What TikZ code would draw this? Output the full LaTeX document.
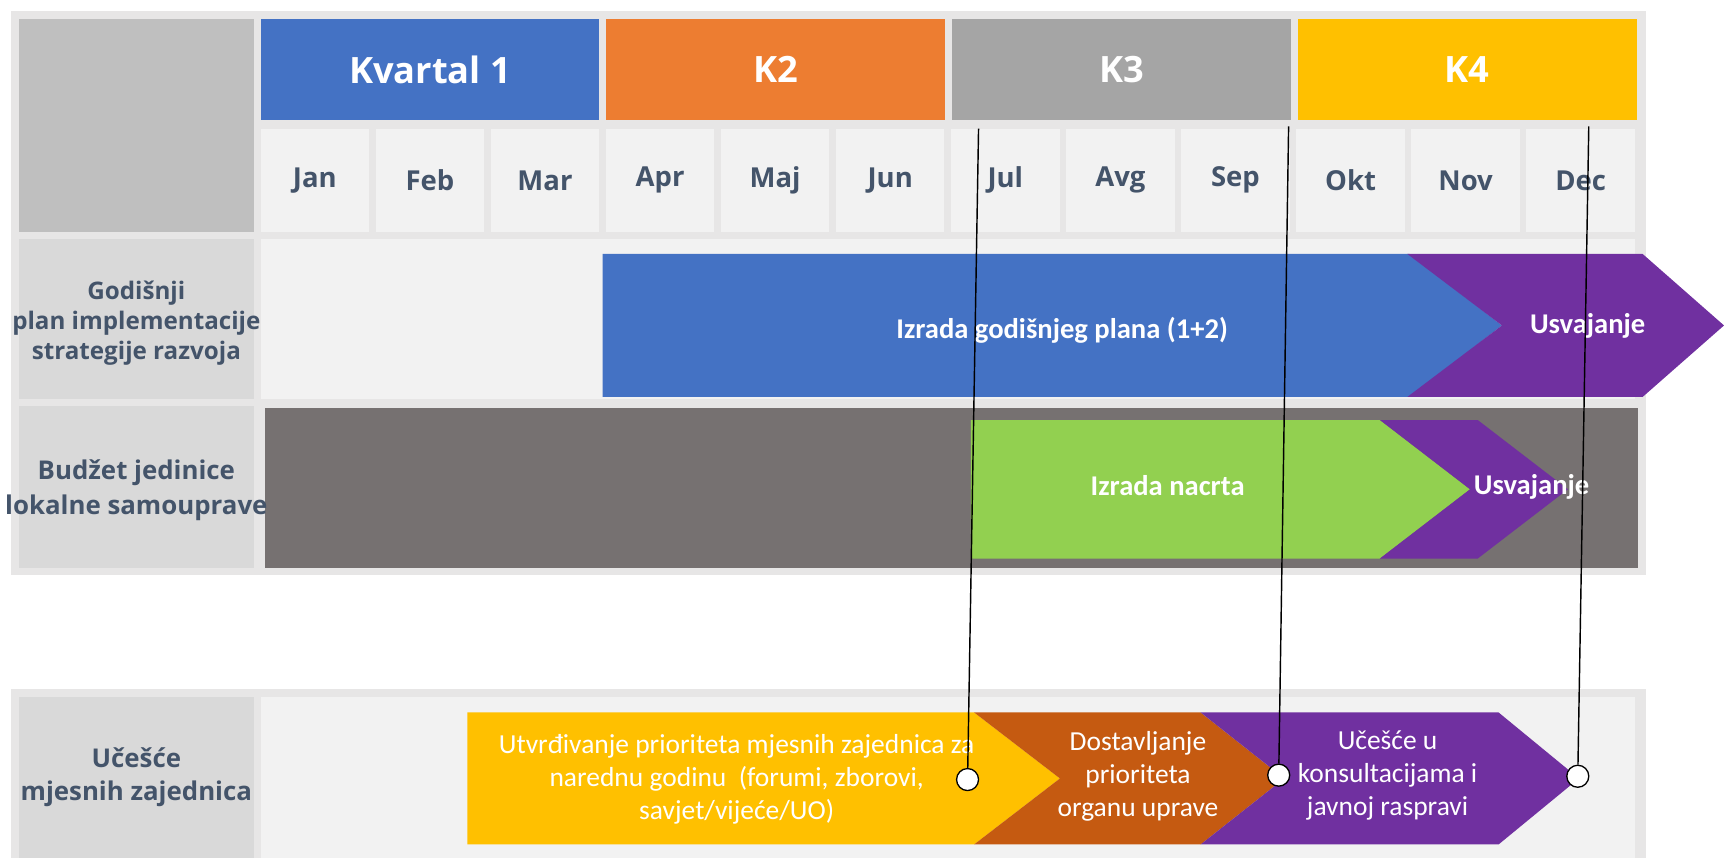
\documentclass[tikz,border=0pt]{standalone}
\usepackage{fontspec}
\usetikzlibrary{positioning}
\newfontfamily\hdfont{Open Sans}
\newfontfamily\barfont{Carlito}
\definecolor{FrameGray}{HTML}{E7E6E6}
\definecolor{CornerGray}{HTML}{BFBFBF}
\definecolor{LabelGray}{HTML}{D9D9D9}
\definecolor{CellGray}{HTML}{F2F2F2}
\definecolor{SlateText}{HTML}{44546A}
\definecolor{QOne}{HTML}{4472C4}
\definecolor{QTwo}{HTML}{ED7D31}
\definecolor{QThree}{HTML}{A5A5A5}
\definecolor{QFour}{HTML}{FFC000}
\definecolor{BudgetGray}{HTML}{767171}
\definecolor{DraftGreen}{HTML}{92D050}
\definecolor{AdoptPurple}{HTML}{7030A0}
\definecolor{SendOrange}{HTML}{C55A11}

\begin{document}
\begin{tikzpicture}[x=1pt, y=-1pt,
    quarter/.style={rectangle, fill=#1, minimum width=308pt, minimum height=92pt,
        inner sep=0pt, text=white, font=\hdfont\bfseries\fontsize{33}{40}\selectfont},
    month/.style={rectangle, fill=CellGray, minimum width=98.7pt, minimum height=94pt,
        inner sep=0pt, text=SlateText, font=\hdfont\bfseries\fontsize{25}{30}\selectfont},
    rowlabel/.style={align=center, inner sep=0pt, text=SlateText,
        font=\hdfont\bfseries\fontsize{22}{27.5}\selectfont},
    bartext/.style={text=white, align=center, inner sep=0pt,
        font=\barfont\bfseries\fontsize{26}{30}\selectfont},
    steptext/.style={text=white, align=center, inner sep=0pt,
        font=\barfont\fontsize{25}{30}\selectfont},
    pin/.style={circle, draw=black, fill=white, line width=1.2pt, minimum size=20pt, inner sep=0pt},
    conn/.style={draw=black, line width=1.3pt},
]
\useasboundingbox (0,0) rectangle (1568,780);

% frames and cells
\fill[FrameGray] (10,10) rectangle (1497,523);
\fill[FrameGray] (10,627) rectangle (1497,780);
\fill[CornerGray] (17,17) rectangle (231,211);
\fill[LabelGray] (17,217) rectangle (231,363);
\fill[CellGray] (237,217) rectangle (1487,363);
\fill[LabelGray] (17,369) rectangle (231,517);
\fill[BudgetGray] (241,371) rectangle (1490,517);
\fill[LabelGray] (17,634) rectangle (231,780);
\fill[CellGray] (237,634) rectangle (1487,780);

% quarters and months
\node[quarter=QOne, anchor=north west] (q1) at (237,17) {Kvartal 1};
\node[quarter=QTwo, right=6pt of q1] (q2) {K2};
\node[quarter=QThree, right=6pt of q2] (q3) {K3};
\node[quarter=QFour, right=6pt of q3] (q4) {K4};
\foreach \m [count=\i] in {Jan,Feb,Mar,Apr,Maj,Jun,Jul,Avg,Sep,Okt,Nov,Dec}
    \node[month] (m\i) at ({286.33+(\i-1)*104.667},164) {\m};

% plan bars
\fill[QOne] (548,231) -- (1282,231) -- (1366,296) -- (1282,361) -- (548,361) -- cycle;
\fill[AdoptPurple] (1280,231) -- (1494,231) -- (1568,296) -- (1494,361) -- (1280,361) -- (1366,296) -- cycle;
% budget bars
\fill[DraftGreen] (883,382) -- (1255,382) -- (1337,445) -- (1255,508) -- (883,508) -- cycle;
\fill[AdoptPurple] (1255,382) -- (1344,382) -- (1426,445) -- (1344,508) -- (1255,508) -- (1337,445) -- cycle;
% community steps
\fill[QFour] (425,648) -- (886,648) -- (964,708) -- (886,768) -- (425,768) -- cycle;
\fill[SendOrange] (886,648) -- (1092,648) -- (1168,708) -- (1092,768) -- (886,768) -- (964,708) -- cycle;
\fill[AdoptPurple] (1092,648) -- (1363,648) -- (1436,708) -- (1363,768) -- (1092,768) -- (1168,708) -- cycle;

% row labels
\node[rowlabel] (plan) at (124,294) {Godišnji\\plan implementacije\\strategije razvoja};
\node[rowlabel, font=\hdfont\bfseries\fontsize{23.5}{32}\selectfont] (budget) at (124,446) {Budžet jedinice\\lokalne samouprave};
\node[rowlabel, font=\hdfont\bfseries\fontsize{23.5}{30}\selectfont] (mz) at (124,707) {Učešće\\mjesnih zajednica};

% bar texts
\node[bartext] (draftplan) at (966,300) {Izrada godišnjeg plana (1+2)};
\node[bartext] (adoptplan) at (1444,296) {Usvajanje};
\node[bartext] (draftbudget) at (1062,442) {Izrada nacrta};
\node[bartext] (adoptbudget) at (1393,443) {Usvajanje};
\node[steptext] (priorities) at (670,709) {Utvrđivanje prioriteta mjesnih zajednica za\\narednu godinu~~(forumi, zborovi,\\savjet/vijeće/UO)};
\node[steptext] (delivery) at (1035,706) {Dostavljanje\\prioriteta\\organu uprave};
\node[steptext] (consult) at (1262,705) {Učešće u\\konsultacijama i\\javnoj raspravi};

% connectors
\coordinate (julTop) at (890,117);
\coordinate (sepTop) at (1172,115);
\coordinate (decTop) at (1445,115);
\node[pin] (pinA) at (880,709) {};
\node[pin] (pinB) at (1163,705) {};
\node[pin] (pinC) at (1435,706) {};
\draw[conn] (julTop) -- (pinA);
\draw[conn] (sepTop) -- (pinB);
\draw[conn] (decTop) -- (pinC);
\end{tikzpicture}
\end{document}
